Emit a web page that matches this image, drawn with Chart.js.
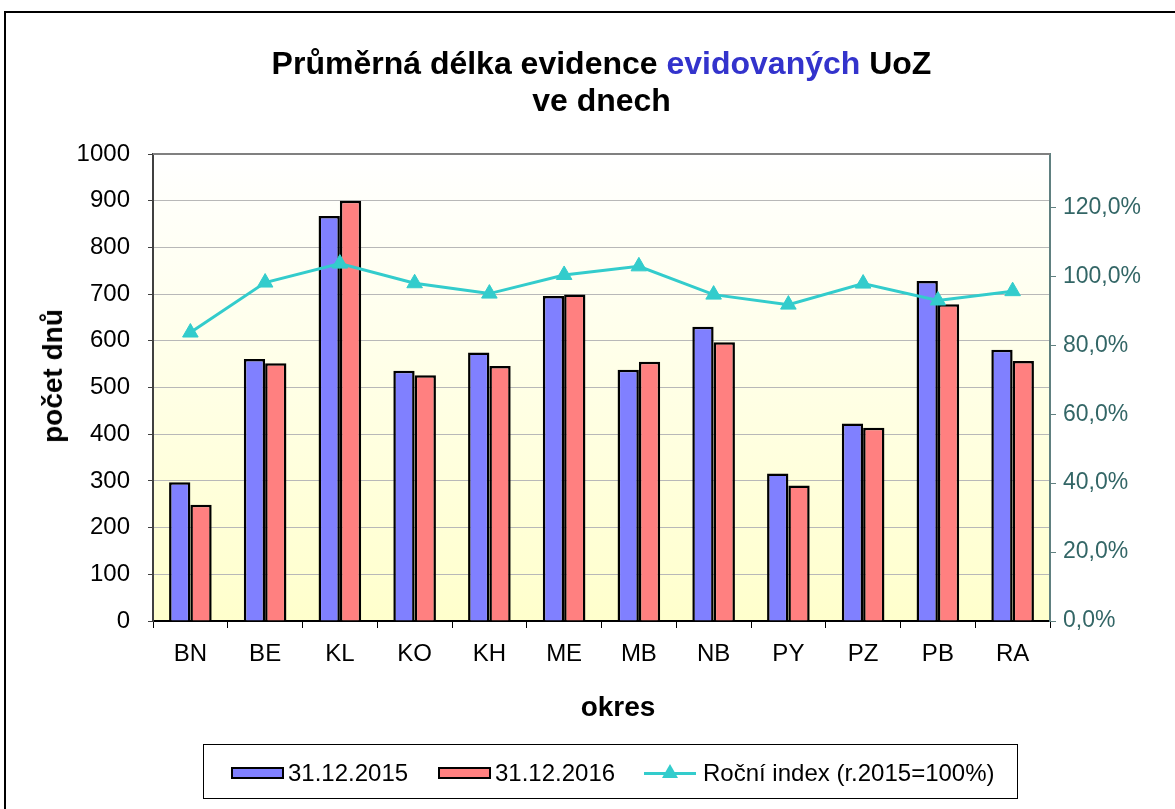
<!DOCTYPE html>
<html>
<head>
<meta charset="utf-8">
<script src="https://cdn.jsdelivr.net/npm/chart.js@4/dist/chart.umd.min.js"></script>
<style>
  body { margin: 0; background: #fff; font-family: "Liberation Sans", Arial, sans-serif; }
  #wrap { position: relative; width: 1175px; height: 809px; overflow: hidden; }
  #frame { position: absolute; left: 4px; top: 11px; width: 1300px; height: 900px; border: 2px solid #000; }
  #graf { position: absolute; left: 0; top: 0; }
  #titulek { position: absolute; left: 153px; top: 45px; width: 897px; text-align: center;
             font-size: 32px; font-weight: bold; line-height: 37px; color: #000; }
  #titulek .modra { color: #3333cc; }
  .osa { position: absolute; font-size: 28px; font-weight: bold; color: #000; white-space: nowrap;
         line-height: 30px; }
  #osaX { left: 518px; width: 200px; text-align: center; top: 692px; }
  #osaY { left: 53px; top: 376px; transform: translate(-50%, -50%) rotate(-90deg); }
  #legenda { position: absolute; left: 203px; top: 744px; width: 813px; height: 53px;
             border: 1.5px solid #000; font-size: 24px; color: #000; }
  .box { position: absolute; top: 22px; width: 53px; height: 12px; border: 2px solid #000; box-sizing: border-box; }
  .txt { position: absolute; top: 15px; line-height: 26px; white-space: nowrap; }
  .car { position: absolute; top: 27px; left: 440px; width: 52px; height: 3px; background: #33cccc; }
  .car::after { content: ""; position: absolute; left: 18px; top: -8px; width: 0; height: 0;
                border-left: 8px solid transparent; border-right: 8px solid transparent;
                border-bottom: 14px solid #33cccc; }
</style>
</head>
<body>
<div id="wrap">
  <div id="frame"></div>
  <canvas id="graf" width="1175" height="809"></canvas>
  <div id="titulek">Průměrná délka evidence <span class="modra">evidovaných</span> UoZ<br>ve dnech</div>
  <div class="osa" id="osaX">okres</div>
  <div class="osa" id="osaY">počet dnů</div>
  <div id="legenda">
    <div class="box" style="left:27px;background:#8080ff"></div>
    <div class="txt" style="left:84px">31.12.2015</div>
    <div class="box" style="left:234px;background:#ff8080"></div>
    <div class="txt" style="left:291px">31.12.2016</div>
    <div class="car"></div>
    <div class="txt" style="left:499px">Roční index (r.2015=100%)</div>
  </div>
</div>
<script>
// okresy a hodnoty
const okresy = ['BN', 'BE', 'KL', 'KO', 'KH', 'ME', 'MB', 'NB', 'PY', 'PZ', 'PB', 'RA'];
const dny2015 = [297, 561, 867, 536, 575, 696, 538, 630, 316, 423, 728, 581];
const dny2016 = [249, 552, 900, 526, 546, 699, 555, 597, 290, 414, 678, 557];
const rocniIndex = [0.837, 0.982, 1.037, 0.980, 0.950, 1.004, 1.029, 0.947, 0.918, 0.979, 0.930, 0.957];

const pismo = '"Liberation Sans", Arial, sans-serif';

// pozadí plochy grafu - přechod do žluté
const pozadi = {
  id: 'pozadi',
  beforeDraw(chart) {
    const { ctx, chartArea: a } = chart;
    const g = ctx.createLinearGradient(0, a.top, 0, a.bottom);
    g.addColorStop(0, '#ffffff');
    g.addColorStop(1, '#ffffcc');
    ctx.save();
    ctx.fillStyle = g;
    ctx.fillRect(a.left, a.top, a.width, a.height);
    ctx.restore();
  },
  afterDraw(chart) {
    const { ctx, chartArea: a } = chart;
    ctx.save();
    ctx.strokeStyle = '#808080';
    ctx.lineWidth = 2;
    ctx.beginPath();
    ctx.moveTo(a.left, a.top);
    ctx.lineTo(a.right, a.top);
    ctx.stroke();
    ctx.restore();
  }
};

new Chart(document.getElementById('graf'), {
  type: 'bar',
  data: {
    labels: okresy,
    datasets: [
      {
        type: 'line',
        label: 'Roční index (r.2015=100%)',
        data: rocniIndex,
        yAxisID: 'y2',
        borderColor: '#33cccc',
        backgroundColor: '#33cccc',
        borderWidth: 3,
        tension: 0,
        pointStyle: 'triangle',
        pointRadius: 9,
        pointBorderWidth: 1,
        order: 0
      },
      {
        label: '31.12.2015',
        data: dny2015,
        backgroundColor: '#8080ff',
        borderColor: '#000',
        borderWidth: 2.5,
        borderSkipped: 'bottom',
        barPercentage: 1,
        categoryPercentage: 0.57,
        order: 1
      },
      {
        label: '31.12.2016',
        data: dny2016,
        backgroundColor: '#ff8080',
        borderColor: '#000',
        borderWidth: 2.5,
        borderSkipped: 'bottom',
        barPercentage: 1,
        categoryPercentage: 0.57,
        order: 2
      }
    ]
  },
  options: {
    responsive: false,
    animation: false,
    devicePixelRatio: 1,
    layout: { padding: { top: 154, bottom: 78, left: 0, right: 0 } },
    plugins: {
      legend: { display: false },
      tooltip: { enabled: false }
    },
    scales: {
      x: {
        afterFit(s) { s.height = 110; },
        grid: { display: true, drawOnChartArea: false, offset: true, tickLength: 7, tickColor: '#000' },
        border: { color: '#000', width: 2 },
        ticks: { color: '#000', font: { family: pismo, size: 24 }, padding: 12 }
      },
      y: {
        position: 'left',
        min: 0,
        max: 1000,
        afterFit(s) { s.width = 153; },
        ticks: { stepSize: 100, color: '#000', font: { family: pismo, size: 24 }, padding: 18,
                 callback: v => String(v) },
        grid: { color: '#b8b8b8', lineWidth: 1, tickLength: 5, tickColor: '#404040' },
        border: { color: '#404040', width: 2 }
      },
      y2: {
        position: 'right',
        min: 0,
        max: 1.355,
        afterFit(s) { s.width = 125; },
        afterBuildTicks(s) { s.ticks = s.ticks.filter(t => t.value <= 1.21); },
        ticks: {
          stepSize: 0.2,
          color: '#336666',
          font: { family: pismo, size: 23 },
          padding: 7,
          callback: v => (v * 100).toFixed(1).replace('.', ',') + '%'
        },
        grid: { drawOnChartArea: false, tickLength: 6, tickColor: '#608080' },
        border: { color: '#608080', width: 2 }
      }
    }
  },
  plugins: [pozadi]
});
</script>
</body>
</html>
